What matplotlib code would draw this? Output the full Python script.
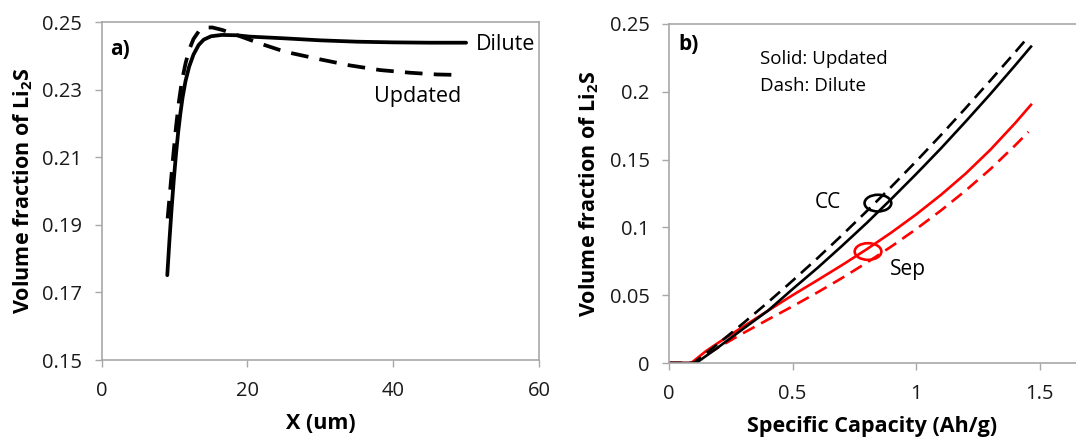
import matplotlib
matplotlib.use("Agg")
import matplotlib.pyplot as plt
from matplotlib.patches import Ellipse

plt.rcParams['font.family'] = ['Open Sans', 'DejaVu Sans']

# a) Li2S profile across the cathode
x_dilute = [9.0, 9.3, 9.6, 9.9, 10.2, 10.5, 10.8, 11.1, 11.5, 12.0, 12.6, 13.3, 14.0, 15.0, 16.5,
            18.5, 20.3, 25.0, 30.0, 35.0, 40.0, 45.0, 50.0]
y_dilute = [0.1751, 0.1855, 0.1950, 0.2035, 0.2110, 0.2175, 0.2230, 0.2277, 0.2325, 0.2368, 0.2404,
            0.2432, 0.2448, 0.2458, 0.2462, 0.2461, 0.2457, 0.2452, 0.2446, 0.2442, 0.2440, 0.2439, 0.2439]
x_updated = [9.05, 9.4, 9.8, 10.2, 10.6, 11.0, 11.5, 12.0, 12.6, 13.3, 14.2, 15.2, 16.5, 18.5,
             21.8, 25.2, 29.9, 34.0, 38.2, 42.4, 46.0, 48.1]
y_updated = [0.1919, 0.2004, 0.2100, 0.2190, 0.2265, 0.2325, 0.2377, 0.2418, 0.2450, 0.2472, 0.2484,
             0.2484, 0.2477, 0.2462, 0.2436, 0.2412, 0.2390, 0.2372, 0.2358, 0.2350, 0.2345, 0.2344]

# b) Li2S vs specific capacity, current collector (CC) and separator (Sep)
cap_cc_upd = [0, 0.11, 0.2, 0.3, 0.4, 0.5, 0.6, 0.7, 0.8, 0.9, 1.0, 1.1, 1.2, 1.3, 1.4, 1.464]
vf_cc_upd = [0, 0, 0.0117, 0.0252, 0.0385, 0.0545, 0.0700, 0.0864, 0.1033, 0.1211, 0.1394,
             0.1583, 0.1781, 0.1984, 0.2195, 0.2333]
cap_cc_dil = [0, 0.10, 0.2, 0.3, 0.4, 0.5, 0.6, 0.7, 0.8, 0.9, 1.0, 1.1, 1.2, 1.3, 1.4, 1.454]
vf_cc_dil = [0, 0, 0.0144, 0.0293, 0.0447, 0.0607, 0.0772, 0.0943, 0.1120, 0.1301, 0.1488,
             0.1681, 0.1880, 0.2084, 0.2292, 0.2407]
cap_sep_upd = [0, 0.09, 0.15, 0.2, 0.3, 0.4, 0.5, 0.6, 0.7, 0.8, 0.9, 1.0, 1.1, 1.2, 1.3, 1.4, 1.464]
vf_sep_upd = [0, 0, 0.0088, 0.0150, 0.0268, 0.0385, 0.0500, 0.0610, 0.0722, 0.0839, 0.0963,
              0.1096, 0.1240, 0.1397, 0.1573, 0.1769, 0.1904]
cap_sep_dil = [0, 0.10, 0.2, 0.3, 0.4, 0.5, 0.6, 0.7, 0.8, 0.9, 1.0, 1.1, 1.2, 1.3, 1.4, 1.454]
vf_sep_dil = [0, 0, 0.0115, 0.0220, 0.0320, 0.0418, 0.0520, 0.0627, 0.0740, 0.0860, 0.0988,
              0.1125, 0.1272, 0.1430, 0.1605, 0.1705]

a_xticks = [0, 20, 40, 60]
a_yticks = [0.15, 0.17, 0.19, 0.21, 0.23, 0.25]
b_xticks = [0, 0.5, 1, 1.5]
b_xlabels = ['0', '0.5', '1', '1.5']
b_yticks = [0, 0.05, 0.1, 0.15, 0.2, 0.25]
b_ylabels = ['0', '0.05', '0.1', '0.15', '0.2', '0.25']

grey = '#a8a8a8'
ylab = r'Volume fraction of Li$_\mathregular{2}$S'

fig = plt.figure(figsize=(10.76, 4.40), dpi=100)
ax1 = fig.add_axes([0.0945, 0.1818, 0.4064, 0.768])
ax2 = fig.add_axes([0.6217, 0.175, 0.3783, 0.7705])

for ax in (ax1, ax2):
    for s in ax.spines.values():
        s.set_color(grey)
        s.set_linewidth(1.2)
    ax.tick_params(direction='out', length=5, width=1.0, color=grey,
                   labelsize=14.5, labelcolor='#1a1a1a')
    ax.tick_params(axis='y', pad=9)
    ax.tick_params(axis='x', pad=10)

# panel a
ax1.plot(x_dilute, y_dilute, color='black', lw=2.7, solid_capstyle='round')
ax1.plot(x_updated, y_updated, color='black', lw=2.7, dashes=(4.7, 3.0))
ax1.set_xlim(0, 60)
ax1.set_ylim(0.15, 0.25)
ax1.set_xticks(a_xticks)
ax1.set_yticks(a_yticks)
ax1.set_yticklabels(['%.2f' % v for v in a_yticks])
ax1.set_xlabel('X (um)', fontsize=15.5, fontweight='bold', labelpad=9)
ax1.set_ylabel(ylab, fontsize=15.5, fontweight='bold', labelpad=5)
ax1.text(0.019, 0.92, 'a)', transform=ax1.transAxes, fontsize=15, fontweight='bold', va='center')
ax1.text(51.3, 0.2435, 'Dilute', fontsize=15.5, va='center')
ax1.text(37.3, 0.2281, 'Updated', fontsize=15.5, va='center')

# panel b
ax2.plot(cap_sep_upd, vf_sep_upd, color='red', lw=1.9)
ax2.plot(cap_sep_dil, vf_sep_dil, color='red', lw=1.9, dashes=(5.0, 2.8))
ax2.plot(cap_cc_dil, vf_cc_dil, color='black', lw=1.9, dashes=(5.0, 2.8))
ax2.plot(cap_cc_upd, vf_cc_upd, color='black', lw=1.9)
ax2.set_xlim(0, 1.646)
ax2.set_ylim(0, 0.25)
ax2.set_xticks(b_xticks)
ax2.set_xticklabels(b_xlabels)
ax2.set_yticks(b_yticks)
ax2.set_yticklabels(b_ylabels)
ax2.spines['right'].set_visible(False)
ax2.set_xlabel('Specific Capacity (Ah/g)', fontsize=15.5, fontweight='bold', labelpad=9)
ax2.set_ylabel(ylab, fontsize=15.5, fontweight='bold', labelpad=6)
ax2.text(0.022, 0.938, 'b)', transform=ax2.transAxes, fontsize=15, fontweight='bold', va='center')
ax2.text(0.367, 0.2242, 'Solid: Updated', fontsize=13.5, va='center')
ax2.text(0.367, 0.2045, 'Dash: Dilute', fontsize=13.5, va='center')
ax2.text(0.589, 0.1186, 'CC', fontsize=15, va='center')
ax2.text(0.892, 0.0687, 'Sep', fontsize=15, va='center')
ax2.add_patch(Ellipse((0.845, 0.1179), 0.108, 0.0123, fill=False, ec='black', lw=1.9))
ax2.add_patch(Ellipse((0.805, 0.0822), 0.108, 0.0123, fill=False, ec='red', lw=1.9))

fig.savefig('out.png', dpi=100)
